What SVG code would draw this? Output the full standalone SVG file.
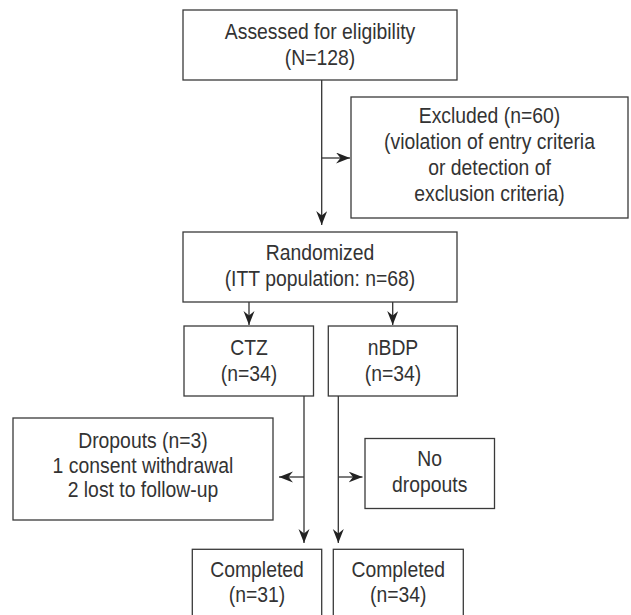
<svg xmlns="http://www.w3.org/2000/svg" width="631" height="615" viewBox="0 0 631 615">
<style>
.box{fill:#fff;stroke:#3a3a3a;stroke-width:1.3}
.t{font-family:"Liberation Sans",Arial,sans-serif;font-size:22px;fill:#333;text-anchor:middle;transform-box:fill-box;transform-origin:center;transform:scaleX(0.88)}
.c{fill:none;stroke:#333;stroke-width:1.3}
</style>
<defs>
<marker id="ah" markerUnits="userSpaceOnUse" markerWidth="15" markerHeight="12" refX="14" refY="5.5" orient="auto">
<path d="M0,0 L14,5.5 L0,11 L4.5,5.5 Z" fill="#222"/>
</marker>
</defs>
<rect width="631" height="615" fill="#fff"/>
<g id="connectors">
<path class="c" d="M321.7,80 V225" marker-end="url(#ah)"/>
<path class="c" d="M321.7,158 H350" marker-end="url(#ah)"/>
<path class="c" d="M249,302 V325" marker-end="url(#ah)"/>
<path class="c" d="M392.7,302 V325" marker-end="url(#ah)"/>
<path class="c" d="M304,396 V543" marker-end="url(#ah)"/>
<path class="c" d="M338.3,396 V543" marker-end="url(#ah)"/>
<path class="c" d="M304,477 H279" marker-end="url(#ah)"/>
<path class="c" d="M338.3,477 H362.5" marker-end="url(#ah)"/>
</g>
<g id="assessed">
<rect class="box" x="183" y="10" width="274" height="70"/>
<text class="t" x="320" y="39">Assessed for eligibility</text>
<text class="t" x="320" y="65">(N=128)</text>
</g>
<g id="excluded">
<rect class="box" x="351" y="97" width="277" height="121"/>
<text class="t" x="489.5" y="123">Excluded (n=60)</text>
<text class="t" x="489.5" y="149">(violation of entry criteria</text>
<text class="t" x="489.5" y="175">or detection of</text>
<text class="t" x="489.5" y="201">exclusion criteria)</text>
</g>
<g id="randomized">
<rect class="box" x="183" y="232" width="274" height="70"/>
<text class="t" x="320" y="260">Randomized</text>
<text class="t" x="320" y="286">(ITT population: n=68)</text>
</g>
<g id="ctz">
<rect class="box" x="184" y="326" width="129.5" height="70"/>
<text class="t" x="249" y="355">CTZ</text>
<text class="t" x="249" y="381">(n=34)</text>
</g>
<g id="nbdp">
<rect class="box" x="328.3" y="326" width="129" height="70"/>
<text class="t" x="393" y="355">nBDP</text>
<text class="t" x="393" y="381">(n=34)</text>
</g>
<g id="dropouts">
<rect class="box" x="13" y="418" width="260" height="102"/>
<text class="t" x="143" y="448">Dropouts (n=3)</text>
<text class="t" x="143" y="473">1 consent withdrawal</text>
<text class="t" x="143" y="497">2 lost to follow-up</text>
</g>
<g id="nodropouts">
<rect class="box" x="365" y="438.5" width="129.5" height="70"/>
<text class="t" x="429.7" y="466">No</text>
<text class="t" x="429.7" y="492">dropouts</text>
</g>
<g id="completed1">
<rect class="box" x="192.3" y="549.3" width="129.4" height="80"/>
<text class="t" x="257" y="577">Completed</text>
<text class="t" x="257" y="602">(n=31)</text>
</g>
<g id="completed2">
<rect class="box" x="333.3" y="549.3" width="130" height="80"/>
<text class="t" x="398.3" y="577">Completed</text>
<text class="t" x="398.3" y="602">(n=34)</text>
</g>
</svg>
